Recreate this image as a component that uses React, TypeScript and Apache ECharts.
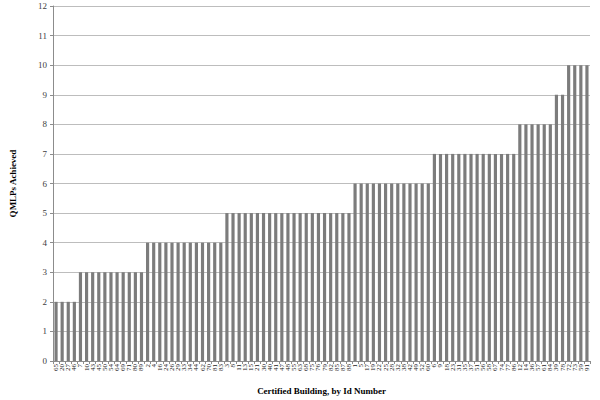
import React, { useEffect, useRef } from "react";
import * as echarts from "echarts";

const ids2 = ["65", "20", "27", "46"];
const ids3 = ["7", "10", "43", "45", "50", "54", "64", "69", "71", "80", "89"];
const ids4 = ["2", "4", "16", "24", "26", "29", "33", "34", "44", "62", "70", "81", "83"];
const ids5 = ["3", "8", "11", "13", "15", "21", "30", "40", "41", "47", "48", "55", "63", "68", "75", "76", "79", "82", "85", "87", "88"];
const ids6 = ["1", "5", "17", "19", "22", "25", "28", "32", "38", "42", "49", "52", "60"];
const ids7 = ["6", "9", "18", "23", "31", "35", "37", "51", "56", "58", "67", "74", "77", "86"];
const ids8 = ["12", "14", "36", "57", "61", "84"];
const ids9 = ["39", "78"];
const ids10 = ["72", "73", "59", "91"];

const groups: [string[], number][] = [
  [ids2, 2], [ids3, 3], [ids4, 4], [ids5, 5], [ids6, 6],
  [ids7, 7], [ids8, 8], [ids9, 9], [ids10, 10],
];

const categories: string[] = [];
const values: number[] = [];
groups.forEach(([ids, v]) => {
  ids.forEach((id) => {
    categories.push(id);
    values.push(v);
  });
});

const FONT = "'Liberation Serif', 'Times New Roman', serif";

export default function App() {
  const ref = useRef<HTMLDivElement>(null);
  useEffect(() => {
    if (!ref.current) return;
    const chart = echarts.init(ref.current, undefined, { renderer: "svg" });
    chart.setOption({
      animation: false,
      backgroundColor: "#ffffff",
      grid: { left: 50, right: 10, top: 6, bottom: 38 },
      xAxis: {
        type: "category",
        data: categories,
        name: "Certified Building, by Id Number",
        nameLocation: "middle",
        nameGap: 25,
        nameTextStyle: { fontFamily: FONT, fontWeight: "bold", fontSize: 9, color: "#000" },
        axisLine: { lineStyle: { color: "#8c8c8c" } },
        axisTick: { show: true, alignWithLabel: false, length: 3, lineStyle: { color: "#8c8c8c" } },
        axisLabel: {
          interval: 0,
          rotate: 90,
          fontSize: 7,
          fontFamily: FONT,
          color: "#222",
          margin: 3,
        },
      },
      yAxis: {
        type: "value",
        min: 0,
        max: 12,
        interval: 1,
        name: "QMLPs Achieved",
        nameLocation: "middle",
        nameGap: 36,
        nameRotate: 90,
        nameTextStyle: { fontFamily: FONT, fontWeight: "bold", fontSize: 9, color: "#000" },
        axisLine: { show: true, lineStyle: { color: "#8c8c8c" } },
        axisTick: { show: true, length: 3, lineStyle: { color: "#8c8c8c" } },
        axisLabel: { fontSize: 9, fontFamily: FONT, color: "#404040", margin: 6 },
        splitLine: { lineStyle: { color: "#bdbdbd", width: 1 } },
      },
      series: [
        {
          type: "bar",
          data: values,
          barCategoryGap: "48%",
          itemStyle: { color: "#7c7c7c" },
        },
      ],
    });
    return () => chart.dispose();
  }, []);
  return (
    <div
      ref={ref}
      style={{ position: "absolute", left: 0, top: 0, width: 600, height: 400 }}
    />
  );
}
